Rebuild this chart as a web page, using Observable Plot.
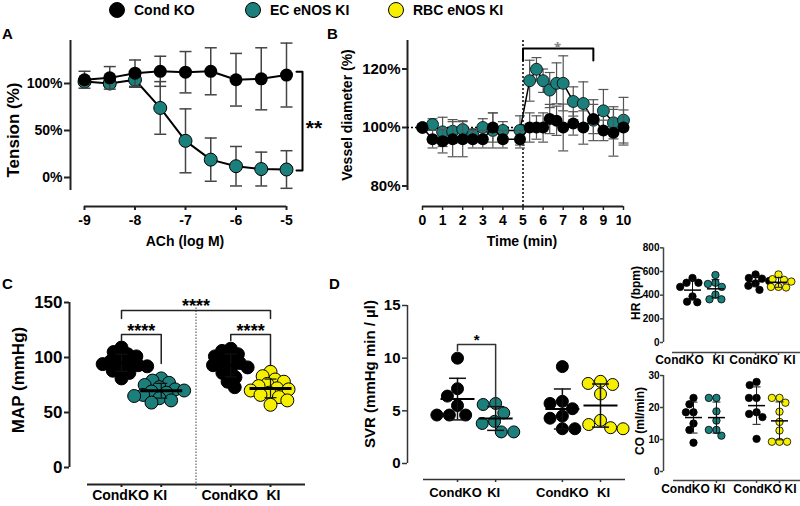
<!DOCTYPE html>
<html>
<head>
<meta charset="utf-8">
<script src="https://cdn.jsdelivr.net/npm/d3@7"></script>
<script src="https://cdn.jsdelivr.net/npm/@observablehq/plot@0.6"></script>
<style>
  html, body { margin: 0; padding: 0; background: #fff; }
  #fig { position: relative; width: 800px; height: 506px; overflow: hidden; font-family: "Liberation Sans", Arial, sans-serif; font-weight: bold; color: #000; }
  #fig svg { position: absolute; left: 0; top: 0; background: none !important; }
  .t { position: absolute; white-space: nowrap; line-height: 1; }
</style>
</head>
<body>
<div id="fig"></div>
<script>
// ---------------- DATA ----------------
const seriesNames = ["Cond KO", "EC eNOS KI", "RBC eNOS KI"];
const seriesColors = ["#000000", "#1b7f7b", "#f6f000"];

// Panel A: ACh dose response
const achLogM = [-9, -8.5, -8, -7.5, -7, -6.5, -6, -5.5, -5];
const tensionCondKO = [104, 106, 111, 113, 112, 113, 104, 105, 109];
const tensionCondKOsd = [9, 12, 14, 16, 22, 25, 28, 33, 34];
const tensionECKI = [102, 100, 104, 74, 39, 19, 12, 9, 8.5];
const tensionECKIsd = [3, 3, 8, 28, 34, 23, 21, 18, 20];
const tensionTicks = [0, 50, 100];
const achTicks = [-9, -8, -7, -6, -5];

// Panel B: vessel diameter over time
const timeMin = [0, 0.5, 1, 1.5, 2, 2.5, 3, 3.5, 4, 4.85, 5.33, 5.67, 6, 6.33, 6.67, 7, 7.5, 8, 8.5, 9, 9.5, 10];
const diamCondKO = [100, 96, 95.3, 96, 96, 96, 96, 100, 96, 96, 100, 100, 100, 102.9, 102.3, 100, 101.4, 100, 102.9, 99, 98.2, 100];
const diamCondKOse = [0, 3, 4, 6, 6, 3, 3, 5, 3, 3, 5, 4, 5, 5, 5, 8, 4, 5.7, 5, 3.5, 8, 6];
const diamECKI = [100, 101, 98.5, 98.7, 99.3, 97.5, 100, 99, 99, 99, 116, 119.9, 116, 112.8, 115.1, 115.1, 108.9, 108.2, 102.5, 105.7, 101.6, 102.5];
const diamECKIse = [0, 2, 5, 4, 3, 2, 3, 6, 3, 5, 7, 4, 4, 6, 7, 9.4, 5, 7.4, 7, 7.3, 5.5, 7.8];
const diameterTicks = [80, 100, 120];
const timeTicks = [0, 1, 2, 3, 4, 5, 6, 7, 8, 9, 10];

// Shared group labels (C, D, HR, CO)
const groupLabels = ["CondKO", "KI", "CondKO", "KI"];

// Panel C: MAP
const mapCondKO_EC = [81, 86, 88, 90, 92, 93, 94, 95, 97, 99, 101, 103, 105, 109];
const mapECKI = [59, 61, 63, 65, 66, 68, 69, 70, 71, 73, 75, 77, 79, 81];
const mapCondKO_RBC = [73, 78, 82, 86, 89, 91, 93, 95, 96, 98, 101, 103, 106, 108];
const mapRBCKI = [57, 61, 64, 66, 68, 70, 71, 72, 74, 76, 78, 80, 83, 87];
const mapTicks = [0, 50, 100, 150];

// Panel D: SVR
const svrCondKO_EC = [10.0, 7.1, 6.4, 5.5, 4.6, 4.6, 4.6];
const svrECKI = [5.7, 5.6, 4.8, 4.0, 3.8, 3.0, 3.0];
const svrCondKO_RBC = [9.2, 5.9, 5.7, 5.2, 4.5, 4.3, 3.3, 3.3];
const svrRBCKI = [7.8, 7.6, 7.5, 6.6, 4.1, 3.7, 3.4, 3.3];
const svrTicks = [0, 5, 10, 15];

// HR
const hrCondKO_EC = [545, 505, 505, 470, 390, 340, 345];
const hrECKI = [570, 505, 495, 470, 405, 365, 365];
const hrCondKO_RBC = [575, 545, 540, 520, 500, 480, 445];
const hrRBCKI = [575, 535, 530, 515, 470, 465, 470];
const hrTicks = [0, 200, 400, 600, 800];

// CO
const coCondKO_EC = [23, 21, 18.5, 18.5, 15, 13, 9];
const coECKI = [23, 23, 18.8, 15.9, 13, 13, 11.2];
const coCondKO_RBC = [28, 27, 23, 23, 18.5, 18, 17, 10.2];
const coRBCKI = [23, 23, 21.5, 18.7, 15.5, 12.8, 9.3, 9.3, 9.3];
const coTicks = [0, 10, 20, 30];

// ---------------- HELPERS ----------------
const fig = document.getElementById("fig");
const BLACK = seriesColors[0], TEAL = seriesColors[1], YEL = seriesColors[2];
const FONT = "'Liberation Sans', Arial, sans-serif";
const lin = (d0, d1, r0, r1) => ({
  map: v => r0 + (v - d0) * (r1 - r0) / (d1 - d0),
  inv: p => d0 + (p - r0) * (d1 - d0) / (r1 - r0)
});
const HLINE = { draw(ctx, size) { const w = Math.sqrt(size / Math.PI); ctx.moveTo(-w, 0); ctx.lineTo(w, 0); } };
const baseStyle = { background: "none", fontFamily: FONT, fontWeight: "bold", fontSize: "14px", overflow: "visible" };

function panel(opts) {
  const svg = Plot.plot({ width: 800, height: 506, style: baseStyle, ...opts });
  fig.appendChild(svg);
  return svg;
}
function txt(s, x, y, size, { anchor = "middle", rotate = false, color = "#000" } = {}) {
  const d = document.createElement("div");
  d.className = "t"; d.textContent = s;
  d.style.left = x + "px"; d.style.top = y + "px"; d.style.fontSize = size + "px"; d.style.color = color;
  const tx = anchor === "start" ? "0" : anchor === "end" ? "-100%" : "-50%";
  d.style.transform = `translate(${tx}, -50%)` + (rotate ? " rotate(-90deg)" : "");
  fig.appendChild(d);
}
function legendDot(x, y, color) {
  const d = document.createElement("div");
  Object.assign(d.style, { position: "absolute", left: (x - 8) + "px", top: (y - 8) + "px", width: "16px", height: "16px",
    borderRadius: "50%", background: color, boxSizing: "border-box", border: "1px solid #000" });
  fig.appendChild(d);
}
function errMarks(rows, { stroke = "#444", sw = 1.5, cap = 6 } = {}) {
  return [
    Plot.ruleX(rows, { x: "x", y1: d => d.y - d.e, y2: d => d.y + d.e, stroke, strokeWidth: sw }),
    Plot.dot(rows, { x: "x", y: d => d.y + d.e, symbol: HLINE, r: cap, stroke, strokeWidth: sw, fill: "none" }),
    Plot.dot(rows, { x: "x", y: d => d.y - d.e, symbol: HLINE, r: cap, stroke, strokeWidth: sw, fill: "none" })
  ];
}
function bracket(x0, x1, yTop, y0, y1, sw = 1.5, stroke = "#222") {
  return Plot.line([{ x: x0, y: y0 }, { x: x0, y: yTop }, { x: x1, y: yTop }, { x: x1, y: y1 }],
    { x: "x", y: "y", stroke, strokeWidth: sw });
}
function swarm(values, ky, minDist) {
  const placed = [], out = new Array(values.length);
  const order = values.map((_, i) => i).sort((a, b) => values[b] - values[a]);
  for (const i of order) {
    const y = values[i] * ky;
    const cands = [0];
    for (const p of placed) {
      const dy = y - p.y;
      if (Math.abs(dy) < minDist) { const dx = Math.sqrt(minDist * minDist - dy * dy); cands.push(p.x - dx, p.x + dx); }
    }
    cands.sort((a, b) => Math.abs(a) - Math.abs(b) || a - b);
    let x = 0;
    for (const c of cands) {
      if (placed.every(p => (p.x - c) ** 2 + (p.y - y) ** 2 >= minDist * minDist - 1e-6)) { x = c; break; }
    }
    placed.push({ x, y }); out[i] = x;
  }
  return out;
}
const pairStep = 2.75;

function dotPanel(p) {
  const xs = lin(0, 3.75, p.xPix[0], p.xPix[1]);
  const ys = lin(p.yDomain[0], p.yDomain[1], p.yPix[0], p.yPix[1]);
  const kx = (p.xPix[1] - p.xPix[0]) / 3.75;
  const ky = Math.abs(ys.map(1) - ys.map(0));
  const pts = [], stats = [], labels = [];
  p.groups.forEach((g, gi) => {
    const pos = Math.floor(gi / 2) * pairStep + gi % 2;
    const off = swarm(g.values, ky, p.minDist);
    const ord = g.values.map((_, i) => i).sort((a, b) => g.values[b] - g.values[a]);
    ord.forEach(i => pts.push({ x: pos + off[i] / kx, y: g.values[i], fill: g.fill }));
    const m = d3.mean(g.values), s = d3.deviation(g.values);
    stats.push({ pos, mean: m, lo: m - s, hi: m + s });
    labels.push({ x: pos + (p.labelShift ? p.labelShift[gi] : 0) / kx, label: groupLabels[gi] });
  });
  const ax = p.axisColor || "#222";
  panel({
    marginLeft: p.yAxisX, marginBottom: 506 - p.xAxisY, marginTop: 0, marginRight: 0,
    x: { type: "linear", domain: [0, 3.75], range: p.xPix },
    y: { type: "linear", domain: p.yDomain, range: p.yPix },
    color: { type: "identity" },
    marks: [
      Plot.ruleX([xs.inv(p.yAxisX)], { y1: p.yAxisExt[0], y2: p.yAxisExt[1], stroke: ax, strokeWidth: p.axisW }),
      Plot.ruleY([ys.inv(p.xAxisY)], { x1: xs.inv(p.xAxisExt[0]), x2: xs.inv(p.xAxisExt[1]), stroke: ax, strokeWidth: p.axisW }),
      Plot.axisY({ ticks: p.yTicks, tickSize: p.yTickSize, tickPadding: p.yTickPad, fontSize: p.yFont, stroke: ax, strokeWidth: p.axisW, label: null }),
      Plot.axisX({ ticks: stats.map(d => d.pos), tickFormat: () => "", tickSize: p.xTickSize || 3, stroke: ax, strokeWidth: p.axisW, label: null }),
      Plot.text(labels, { x: "x", text: "label", frameAnchor: "bottom", dy: p.labelDy, fontSize: p.labelFont }),
      ...(p.before || []),
      Plot.dot(pts, { x: "x", y: "y", r: p.r, fill: "fill", stroke: "#000", strokeWidth: p.dotSW }),
      Plot.ruleX(stats, { x: "pos", y1: "lo", y2: "hi", stroke: "#111", strokeWidth: p.sdW }),
      Plot.dot(stats, { x: "pos", y: "hi", symbol: HLINE, r: p.capW / 2, stroke: "#111", strokeWidth: p.sdW, fill: "none" }),
      Plot.dot(stats, { x: "pos", y: "lo", symbol: HLINE, r: p.capW / 2, stroke: "#111", strokeWidth: p.sdW, fill: "none" }),
      Plot.dot(stats, { x: "pos", y: "mean", symbol: HLINE, r: p.meanW / 2, stroke: "#000", strokeWidth: p.meanSW, fill: "none" }),
      ...(p.extra || [])
    ]
  });
  return { xs, ys };
}

// ---------------- LEGEND ----------------
legendDot(117, 10, seriesColors[0]); txt(seriesNames[0], 134, 10, 14, { anchor: "start" });
legendDot(253, 10, seriesColors[1]); txt(seriesNames[1], 270, 10, 14, { anchor: "start" });
legendDot(396, 10, seriesColors[2]); txt(seriesNames[2], 413, 10, 14, { anchor: "start" });

// ---------------- PANEL A ----------------
{
  const xs = lin(-9, -5, 84, 286), ys = lin(0, 100, 177, 83);
  const ko = achLogM.map((x, i) => ({ x, y: tensionCondKO[i], e: tensionCondKOsd[i] }));
  const ec = achLogM.map((x, i) => ({ x, y: tensionECKI[i], e: tensionECKIsd[i] }));
  const bx = xs.inv(302), bt = xs.inv(296);
  panel({
    marginLeft: 70, marginBottom: 506 - 206, marginTop: 0, marginRight: 0,
    x: { type: "linear", domain: [-9, -5], range: [84, 286] },
    y: { type: "linear", domain: [0, 100], range: [177, 83] },
    marks: [
      Plot.ruleX([xs.inv(70)], { y1: ys.inv(190), y2: ys.inv(40), strokeWidth: 2, stroke: "#222" }),
      Plot.ruleY([ys.inv(206)], { x1: -9, x2: -5, strokeWidth: 2, stroke: "#222" }),
      Plot.axisY({ ticks: tensionTicks, tickFormat: d => d + "%", tickSize: 6, tickPadding: 2, fontSize: 14, strokeWidth: 2, stroke: "#222", label: null }),
      Plot.axisX({ ticks: achTicks, tickFormat: d => String(d), tickSize: 4, tickPadding: 5, fontSize: 14, strokeWidth: 2, stroke: "#222", label: null }),
      ...errMarks(ec, { stroke: "#444", sw: 1.5, cap: 6 }),
      Plot.line(ec, { x: "x", y: "y", stroke: "#000", strokeWidth: 2 }),
      Plot.dot(ec, { x: "x", y: "y", r: 6.5, fill: TEAL, stroke: "#000", strokeWidth: 1 }),
      ...errMarks(ko, { stroke: "#444", sw: 1.5, cap: 6 }),
      Plot.line(ko, { x: "x", y: "y", stroke: "#000", strokeWidth: 2 }),
      Plot.dot(ko, { x: "x", y: "y", r: 6.5, fill: BLACK }),
      Plot.line([{ x: bt, y: 112.5 }, { x: bx, y: 112.5 }, { x: bx, y: 7.5 }, { x: bt, y: 7.5 }], { x: "x", y: "y", stroke: "#000", strokeWidth: 2 }),
      Plot.text(["**"], { x: xs.inv(313.5), y: ys.inv(122.5), text: d => d, dy: 5, fontSize: 21 })
    ]
  });
  txt("A", 2, 33, 15, { anchor: "start" });
  txt("ACh (log M)", 185, 241, 14);
  txt("Tension (%)", 13, 130, 17, { rotate: true });
}

// ---------------- PANEL B ----------------
{
  const xs = lin(0, 10, 422, 623), ys = lin(80, 120, 185.5, 68.5);
  const ko = timeMin.map((x, i) => ({ x, y: diamCondKO[i], e: diamCondKOse[i] }));
  const ec = timeMin.map((x, i) => ({ x, y: diamECKI[i], e: diamECKIse[i] }));
  panel({
    marginLeft: 407, marginBottom: 506 - 206, marginTop: 0, marginRight: 0,
    x: { type: "linear", domain: [0, 10], range: [422, 623] },
    y: { type: "linear", domain: [80, 120], range: [185.5, 68.5] },
    marks: [
      Plot.ruleX([xs.inv(407)], { y1: ys.inv(190), y2: ys.inv(40), strokeWidth: 2, stroke: "#222" }),
      Plot.ruleY([ys.inv(206)], { x1: 0, x2: 10, strokeWidth: 2, stroke: "#222" }),
      Plot.axisY({ ticks: diameterTicks, tickFormat: d => d + "%", tickSize: 5, tickPadding: 2, fontSize: 15, strokeWidth: 2, stroke: "#222", label: null }),
      Plot.axisX({ ticks: timeTicks, tickFormat: d => String(d), tickSize: 4, tickPadding: 5, fontSize: 14, strokeWidth: 1.5, stroke: "#222", label: null }),
      Plot.ruleY([100], { x1: xs.inv(407), x2: 5, stroke: "#000", strokeDasharray: "2,2", strokeWidth: 1.5 }),
      Plot.ruleX([5], { y1: ys.inv(206), y2: ys.inv(40), stroke: "#000", strokeDasharray: "2,2", strokeWidth: 1.5 }),
      ...errMarks(ec, { stroke: "#555", sw: 1.2, cap: 5 }),
      Plot.line(ec, { x: "x", y: "y", stroke: "#000", strokeWidth: 1.5 }),
      Plot.dot(ec, { x: "x", y: "y", r: 6, fill: TEAL, stroke: "#000", strokeWidth: 0.8 }),
      ...errMarks(ko, { stroke: "#555", sw: 1.2, cap: 5 }),
      Plot.line(ko, { x: "x", y: "y", stroke: "#000", strokeWidth: 1.5 }),
      Plot.dot(ko, { x: "x", y: "y", r: 6, fill: BLACK }),
      bracket(5, 8.5, ys.inv(48), ys.inv(60), ys.inv(60), 2, "#000"),
      Plot.text(["*"], { x: xs.inv(557), y: ys.inv(44), text: d => d, dy: 4, fontSize: 17, fill: "#888" })
    ]
  });
  txt("B", 327, 33, 15, { anchor: "start" });
  txt("Time (min)", 522, 241, 14);
  txt("Vessel diameter (%)", 347, 115, 14, { rotate: true });
}

// ---------------- PANEL C ----------------
{
  const gap = (1 + pairStep) / 2;
  dotPanel({
    groups: [
      { values: mapCondKO_EC, fill: BLACK }, { values: mapECKI, fill: TEAL },
      { values: mapCondKO_RBC, fill: BLACK }, { values: mapRBCKI, fill: YEL }
    ],
    xPix: [121, 270], yDomain: [0, 150], yPix: [467, 302], yAxisX: 69, yAxisExt: [0, 150],
    xAxisY: 484, xAxisExt: [87, 305], yTicks: mapTicks, yFont: 17, yTickSize: 5, yTickPad: 2, axisW: 2,
    r: 6.5, minDist: 9, dotSW: 1, meanW: 42, meanSW: 3, capW: 12, sdW: 1.2,
    labelFont: 14, labelDy: 15, labelShift: [-1, -1, -1, 3], xTickSize: 3,
    before: [
      Plot.ruleX([gap], { y1: -22 / 1.1, y2: 150, stroke: "#444", strokeDasharray: "1.5,1.5", strokeWidth: 1 })
    ],
    extra: [
      bracket(0, 3.75, 142.7, 135.5, 135.5),
      bracket(0, 1, 121, 115.5, 94.5),
      bracket(pairStep, 3.75, 121, 115.5, 92.7),
      Plot.text(["****"], { x: gap, y: 150, text: d => d, dy: 4, fontSize: 18 }),
      Plot.text(["****"], { x: 0.5, y: 127.7, text: d => d, dy: 4, fontSize: 18 }),
      Plot.text(["****"], { x: (pairStep + 3.75) / 2, y: 127.7, text: d => d, dy: 4, fontSize: 18 })
    ]
  });
  txt("C", 2, 283, 15, { anchor: "start" });
  txt("MAP (mmHg)", 18, 380, 17, { rotate: true });
}

// ---------------- PANEL D ----------------
{
  dotPanel({
    groups: [
      { values: svrCondKO_EC, fill: BLACK }, { values: svrECKI, fill: TEAL },
      { values: svrCondKO_RBC, fill: BLACK }, { values: svrRBCKI, fill: YEL }
    ],
    xPix: [457, 600], yDomain: [0, 15], yPix: [463, 305], yAxisX: 407, yAxisExt: [0, 15],
    xAxisY: 479, xAxisExt: [423, 625], yTicks: svrTicks, yFont: 15, yTickSize: 5, yTickPad: 2, axisW: 1.5,
    axisColor: "#333",
    r: 6, minDist: 12.5, dotSW: 1, meanW: 34, meanSW: 2, capW: 17, sdW: 1.5,
    labelFont: 13, labelDy: 17, labelShift: [-2, -2, 0, 3], xTickSize: 3,
    extra: [
      bracket(0, 1, 11.3, 10.7, 5.5, 1.5, "#333"),
      Plot.text(["*"], { x: 0.5, y: 12.0, text: d => d, dy: 3.5, fontSize: 15 })
    ]
  });
  txt("D", 329, 283, 15, { anchor: "start" });
  txt("SVR (mmHg min / µl)", 369, 374, 15, { rotate: true });
}

// ---------------- HR ----------------
{
  dotPanel({
    groups: [
      { values: hrCondKO_EC, fill: BLACK }, { values: hrECKI, fill: TEAL },
      { values: hrCondKO_RBC, fill: BLACK }, { values: hrRBCKI, fill: YEL }
    ],
    xPix: [692, 778], yDomain: [0, 600], yPix: [342, 271], yAxisX: 663, yAxisExt: [0, 800],
    xAxisY: 352, xAxisExt: [672, 800], yTicks: hrTicks, yFont: 10, yTickSize: 3, yTickPad: 1, axisW: 1.5,
    axisColor: "#444",
    r: 3.7, minDist: 7.6, dotSW: 0.8, meanW: 17, meanSW: 1.5, capW: 8, sdW: 1,
    labelFont: 12, labelDy: 11, labelShift: [-13, 3, -2, 11], xTickSize: 3
  });
  txt("HR (bpm)", 636, 293, 12, { rotate: true });
}

// ---------------- CO ----------------
{
  dotPanel({
    groups: [
      { values: coCondKO_EC, fill: BLACK }, { values: coECKI, fill: TEAL },
      { values: coCondKO_RBC, fill: BLACK }, { values: coRBCKI, fill: YEL }
    ],
    xPix: [693, 779], yDomain: [0, 30], yPix: [471, 375], yAxisX: 663, yAxisExt: [0, 30],
    xAxisY: 480, xAxisExt: [673, 800], yTicks: coTicks, yFont: 10, yTickSize: 3, yTickPad: 1, axisW: 1.5,
    axisColor: "#444",
    r: 3.7, minDist: 7.6, dotSW: 0.8, meanW: 17, meanSW: 1.5, capW: 8, sdW: 1,
    labelFont: 12, labelDy: 12, labelShift: [-8, 3, 1, 11], xTickSize: 3
  });
  txt("CO (ml/min)", 640, 421, 12, { rotate: true });
}
</script>
</body>
</html>
